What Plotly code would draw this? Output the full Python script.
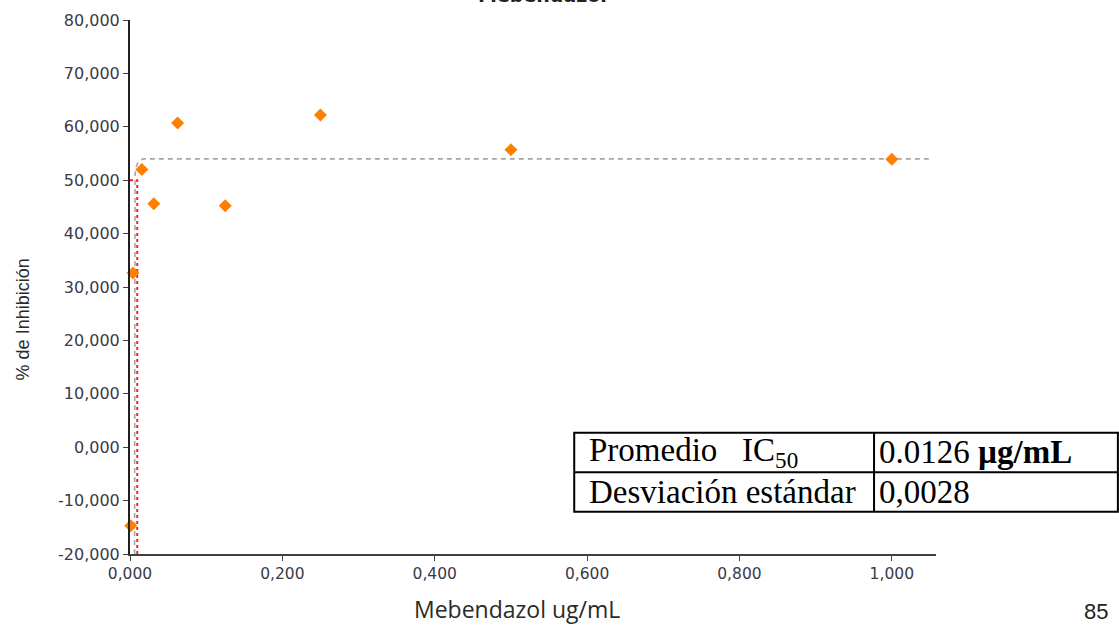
import plotly.graph_objects as go

# ---- data ----
conc = [0.001, 0.0039, 0.0156, 0.03125, 0.0625, 0.125, 0.25, 0.5, 1.0]
inhib = [-14.7, 32.6, 52.0, 45.6, 60.7, 45.2, 62.2, 55.7, 53.9]

fit_x = [0.0060, 0.0063, 0.0066, 0.0080, 0.0102, 0.0140, 0.0177, 1.05]
fit_y = [-20.0, 20.0, 51.0, 52.5, 53.2, 53.8, 54.0, 54.0]

ic50_x = 0.0095
ic50_y = 50.0

y_ticks = [-20, -10, 0, 10, 20, 30, 40, 50, 60, 70, 80]
y_labels = ["-20,000", "-10,000", "0,000", "10,000", "20,000", "30,000",
            "40,000", "50,000", "60,000", "70,000", "80,000"]
x_ticks = [0, 0.2, 0.4, 0.6, 0.8, 1.0]
x_labels = ["0,000", "0,200", "0,400", "0,600", "0,800", "1,000"]

table_rows = [["Promedio   IC<sub>50</sub>", "0.0126 <b>µg/mL</b>"],
              ["Desviación estándar", "0,0028"]]

fig = go.Figure()

# fitted curve
fig.add_trace(go.Scatter(x=fit_x, y=fit_y, mode="lines",
                         line=dict(color="#a6a6a6", width=1.6, dash="5px,4px"),
                         hoverinfo="skip", showlegend=False))
# IC50 guide lines
fig.add_trace(go.Scatter(x=[0, ic50_x, ic50_x], y=[ic50_y, ic50_y, -20],
                         mode="lines",
                         line=dict(color="#ff2020", width=2, dash="dot"),
                         hoverinfo="skip", showlegend=False))
# data points
fig.add_trace(go.Scatter(x=conc, y=inhib, mode="markers",
                         marker=dict(symbol="diamond", size=10, color="#ff8000",
                                     line=dict(width=0)),
                         showlegend=False, cliponaxis=False))

fig.update_layout(
    width=1119, height=626,
    margin=dict(l=129.5, r=183, t=20, b=71.7, autoexpand=False),
    paper_bgcolor="white", plot_bgcolor="white",
    showlegend=False,
    font=dict(family="DejaVu Sans", color="#404040"),
)
fig.update_xaxes(range=[0, 1.058], tickvals=x_ticks, ticktext=x_labels,
                 automargin=False,
                 showgrid=False, zeroline=False, showline=True,
                 linecolor="#404040", linewidth=1.5,
                 ticks="outside", ticklen=5, tickcolor="#404040", tickwidth=1.2,
                 tickfont=dict(family="DejaVu Sans", size=15.5, color="#3a3a48"))
fig.update_yaxes(range=[-20, 80], tickvals=y_ticks, ticktext=y_labels,
                 automargin=False,
                 showgrid=False, zeroline=False, showline=True,
                 linecolor="#202020", linewidth=2,
                 ticks="outside", ticklen=5, tickcolor="#404040", tickwidth=1.2,
                 tickfont=dict(family="DejaVu Sans", size=16, color="#3a3a48"))

def px_x(p):
    return (p - 129.5) / 806.5

def px_y(p):
    return (554.3 - p) / 534.3

# axis titles
fig.add_annotation(text="Mebendazol ug/mL", xref="paper", yref="paper",
                   x=px_x(517), y=px_y(609), showarrow=False,
                   xanchor="center", yanchor="middle",
                   font=dict(family="Open Sans", size=23, color="#2a2a2a"))
fig.add_annotation(text="% de Inhibición", xref="paper", yref="paper",
                   x=px_x(22), y=px_y(320), showarrow=False, textangle=-90,
                   xanchor="center", yanchor="middle",
                   font=dict(family="Liberation Sans", size=18, color="#2a2a2a"))

# cut-off title at top
fig.add_annotation(text="<b>Mebendazol</b>", xref="paper", yref="paper",
                   x=px_x(542), y=1.047, showarrow=False,
                   xanchor="center", yanchor="middle",
                   font=dict(family="DejaVu Sans", size=19, color="#222222"))

# table drawn with shapes + annotations
fig.add_shape(type="rect", xref="paper", yref="paper",
              x0=px_x(574), x1=px_x(1118), y0=px_y(512), y1=px_y(433),
              line=dict(color="black", width=2), fillcolor="white", layer="above")
fig.add_shape(type="line", xref="paper", yref="paper",
              x0=px_x(574), x1=px_x(1118), y0=px_y(472.5), y1=px_y(472.5),
              line=dict(color="black", width=2))
fig.add_shape(type="line", xref="paper", yref="paper",
              x0=px_x(874), x1=px_x(874), y0=px_y(433), y1=px_y(512),
              line=dict(color="black", width=2))

row_centers = [452.5, 492]
for r, row in enumerate(table_rows):
    fig.add_annotation(text=row[0], xref="paper", yref="paper",
                       x=px_x(587), y=px_y(row_centers[r]), showarrow=False,
                       xanchor="left", yanchor="middle",
                       font=dict(family="Liberation Serif", size=33, color="black"))
    fig.add_annotation(text=row[1], xref="paper", yref="paper",
                       x=px_x(877), y=px_y(row_centers[r]), showarrow=False,
                       xanchor="left", yanchor="middle",
                       font=dict(family="Liberation Serif", size=33, color="black"))

# page number
fig.add_annotation(text="85", xref="paper", yref="paper",
                   x=px_x(1096), y=px_y(612), showarrow=False,
                   xanchor="center", yanchor="middle",
                   font=dict(family="Liberation Sans", size=22, color="#222222"))

fig.write_html("out.html", config={"displayModeBar": False},
               post_script="document.body.style.margin='0';document.body.style.overflow='hidden';")
